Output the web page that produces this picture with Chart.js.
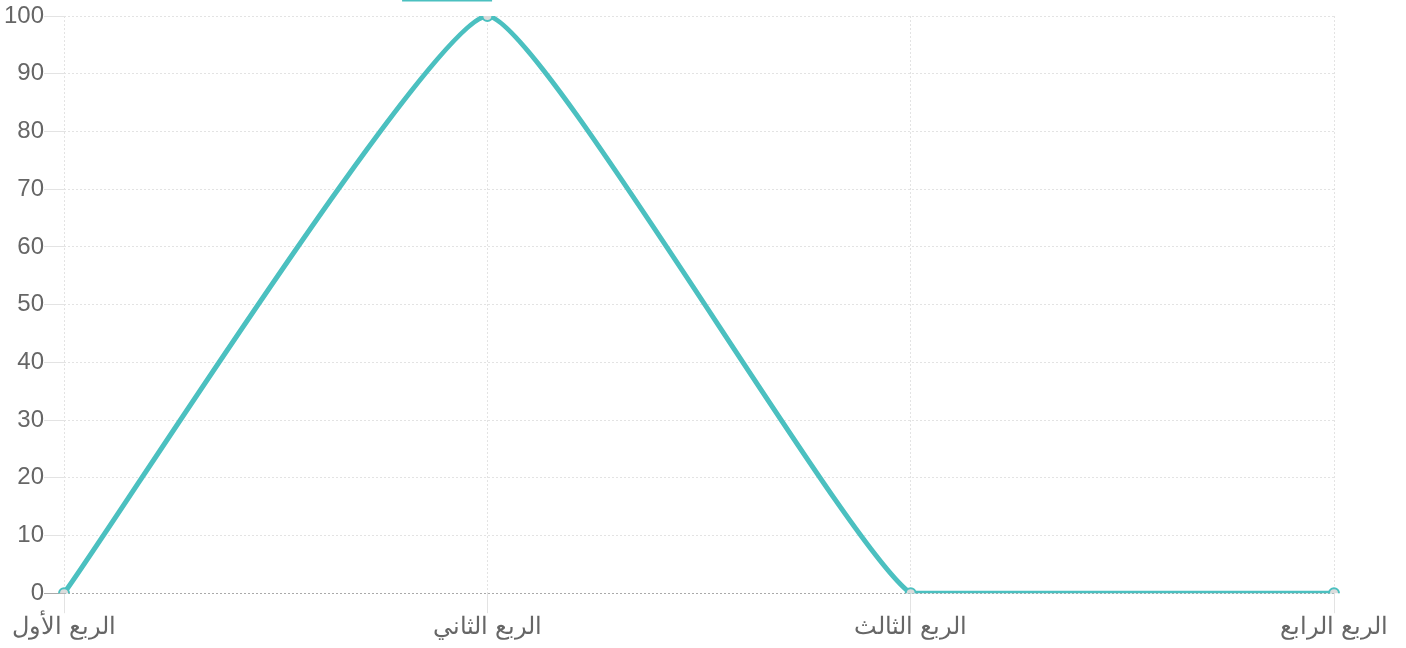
<!DOCTYPE html>
<html>
<head>
<meta charset="utf-8">
<script src="https://cdn.jsdelivr.net/npm/chart.js@4"></script>
<style>
html,body{margin:0;padding:0;background:#fff;overflow:hidden;}
#wrap{position:absolute;left:0;top:-44px;width:1406px;height:686px;}
</style>
</head>
<body>
<div id="wrap"><canvas id="c"></canvas></div>
<script>
const categories = ["الربع الأول", "الربع الثاني", "الربع الثالث", "الربع الرابع"];
const seriesLabel = "نسبة الإنجاز الفعلية للمشاريع خلال أرباع السنة";
const seriesValues = [0, 100, 0, 0];
const yTicks = [0, 10, 20, 30, 40, 50, 60, 70, 80, 90, 100];

const teal = "rgb(75,192,192)";
const FONT = "'Liberation Sans', Arial, sans-serif";

const legendGap = {
  id: "legendGap",
  beforeInit(chart) {
    const origFit = chart.legend.fit;
    chart.legend.fit = function () {
      origFit.call(this);
      this.height += 7;
    };
  }
};

new Chart(document.getElementById("c"), {
  type: "line",
  plugins: [legendGap],
  data: {
    labels: categories,
    datasets: [{
      label: seriesLabel,
      data: seriesValues,
      borderColor: teal,
      backgroundColor: "rgba(75,192,192,0.1)",
      borderWidth: 5,
      tension: 0.12,
      fill: false,
      pointRadius: 5,
      pointBorderWidth: 2,
      pointBackgroundColor: "rgba(220,220,220,1)",
      pointBorderColor: teal
    }]
  },
  options: {
    responsive: true,
    maintainAspectRatio: false,
    animation: false,
    layout: { padding: { left: 4, right: 72 } },
    plugins: {
      legend: {
        display: true,
        labels: { boxWidth: 85, boxHeight: 23, padding: 20, font: { size: 23, family: FONT }, color: "#666" }
      },
      tooltip: { enabled: false }
    },
    scales: {
      x: {
        grid: { color: "#e3e3e3", drawTicks: true, tickLength: 20 },
        border: { display: false, dash: [2, 2] },
        ticks: { color: "#666", font: { size: 24, family: FONT }, padding: 0, maxRotation: 0 }
      },
      y: {
        min: 0, max: 100,
        afterBuildTicks: (axis) => { axis.ticks = yTicks.map(v => ({ value: v })); },
        grid: {
          color: (ctx) => ctx.tick && ctx.tick.value === 0 ? "#aaa" : "#e3e3e3",
          drawTicks: true, tickLength: 20
        },
        border: { display: false, dash: [2, 2] },
        ticks: { color: "#666", font: { size: 24, family: FONT }, padding: 0 }
      }
    }
  }
});
</script>
</body>
</html>
